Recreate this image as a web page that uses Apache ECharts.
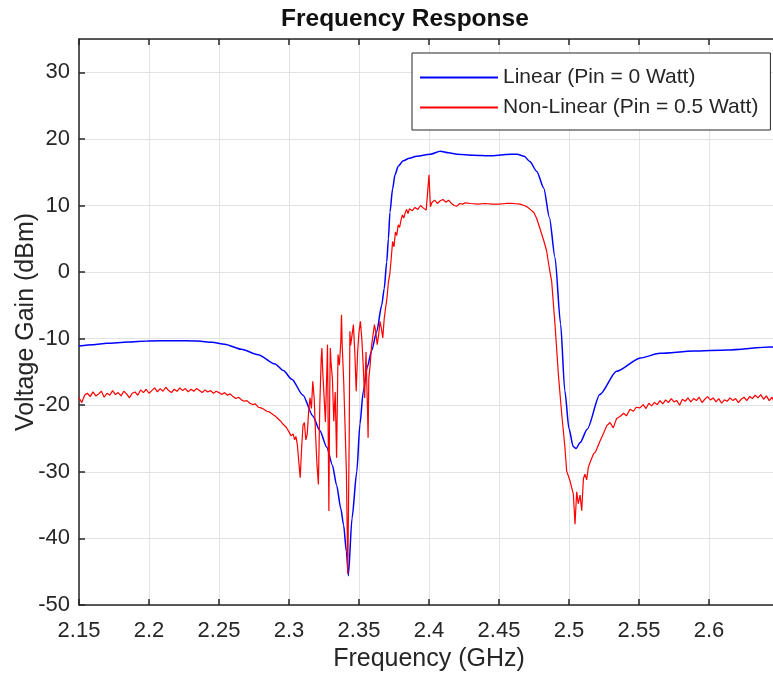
<!DOCTYPE html>
<html>
<head>
<meta charset="utf-8">
<title>Frequency Response</title>
<script src="https://cdn.jsdelivr.net/npm/echarts@6/dist/echarts.min.js"></script>
<style>
  html, body { margin: 0; padding: 0; background: #fff; }
  #chart { width: 773px; height: 677px; }
</style>
</head>
<body>
<div id="chart"></div>
<script>
// axis ticks
var xTicks = { min: 2.15, max: 2.65, step: 0.05 };
var yTicks = { min: -50, max: 35, step: 10 };

var seriesNames = ['Linear (Pin = 0 Watt)', 'Non-Linear (Pin = 0.5 Watt)'];

// linear response [GHz, dBm]
var linearGain = [
    [2.150, -11.1], [2.160, -10.9], [2.170, -10.7], [2.185, -10.5], [2.199, -10.35],
    [2.219, -10.3], [2.235, -10.35], [2.245, -10.55], [2.254, -10.85], [2.266, -11.6],
    [2.278, -12.4], [2.290, -13.8], [2.296, -14.8], [2.302, -16.1], [2.310, -18.5],
    [2.317, -21.6], [2.322, -23.8], [2.327, -26.3], [2.331, -29.0], [2.334, -32.0],
    [2.337, -35.5], [2.339, -38.0], [2.341, -42.0], [2.3424, -45.6], [2.345, -37.0],
    [2.3484, -30.0], [2.3507, -22.8], [2.353, -18.0], [2.356, -14.2], [2.359, -11.8],
    [2.3626, -9.0], [2.3662, -5.0], [2.368, -2.5], [2.3698, 1.5], [2.371, 5.0],
    [2.3721, 9.0], [2.374, 12.5], [2.3757, 14.6], [2.378, 15.9], [2.3816, 16.7],
    [2.386, 17.1], [2.391, 17.4], [2.401, 17.7], [2.408, 18.15], [2.414, 17.9],
    [2.420, 17.7], [2.432, 17.55], [2.444, 17.45], [2.455, 17.65], [2.463, 17.7],
    [2.468, 17.4], [2.472, 16.6], [2.477, 15.1], [2.482, 12.6], [2.486, 8.2],
    [2.490, 2.2], [2.494, -7.8], [2.497, -17.8], [2.500, -23.5], [2.503, -26.2],
    [2.505, -26.5], [2.508, -25.6], [2.513, -23.6], [2.522, -18.4], [2.534, -14.9],
    [2.551, -12.9], [2.565, -12.2], [2.589, -11.85], [2.613, -11.7], [2.644, -11.25],
    [2.650, -11.2]
];

// non-linear response [GHz, dBm]
var nonLinearGain = [
    [2.150, -18.9], [2.152, -19.6], [2.154, -18.5], [2.156, -18.2], [2.158, -18.7],
    [2.160, -18.0], [2.162, -18.6], [2.164, -18.3], [2.166, -17.9], [2.168, -18.8],
    [2.170, -18.2], [2.172, -18.5], [2.174, -17.8], [2.176, -18.4], [2.178, -18.1],
    [2.180, -18.6], [2.182, -17.9], [2.184, -18.3], [2.186, -18.9], [2.188, -18.2],
    [2.190, -18.0], [2.192, -18.5], [2.194, -17.7], [2.196, -18.1], [2.198, -17.6],
    [2.200, -18.2], [2.202, -17.8], [2.204, -17.4], [2.206, -18.0], [2.208, -17.5],
    [2.210, -17.9], [2.212, -17.3], [2.214, -17.8], [2.216, -18.1], [2.218, -17.6],
    [2.220, -17.9], [2.222, -17.4], [2.224, -17.8], [2.226, -17.5], [2.228, -18.0],
    [2.230, -17.6], [2.232, -17.9], [2.234, -17.5], [2.236, -17.8], [2.238, -18.1],
    [2.240, -17.7], [2.242, -18.0], [2.244, -17.8], [2.246, -18.2], [2.248, -17.9],
    [2.250, -18.1], [2.252, -18.4], [2.254, -18.1], [2.256, -18.5], [2.258, -18.3],
    [2.260, -18.7], [2.262, -19.0], [2.264, -18.8], [2.266, -19.2], [2.268, -19.4],
    [2.270, -19.3], [2.272, -19.7], [2.274, -19.9], [2.276, -19.8], [2.278, -20.3],
    [2.280, -20.4], [2.282, -20.6], [2.284, -20.9], [2.286, -21.0], [2.288, -21.3],
    [2.290, -21.6], [2.292, -22.0], [2.294, -22.4], [2.296, -22.9], [2.298, -23.3],
    [2.300, -24.0], [2.3015, -24.6], [2.303, -24.3], [2.304, -25.2], [2.305, -24.7],
    [2.306, -26.0], [2.307, -28.5], [2.308, -30.9], [2.309, -26.5], [2.310, -23.0],
    [2.311, -22.6], [2.312, -25.2], [2.313, -24.4], [2.314, -21.0], [2.315, -18.9],
    [2.316, -20.5], [2.317, -16.4], [2.318, -19.0], [2.319, -24.5], [2.320, -29.0],
    [2.321, -31.9], [2.322, -20.0], [2.323, -13.0], [2.3235, -11.4], [2.324, -14.5],
    [2.325, -18.5], [2.326, -22.5], [2.327, -15.0], [2.3275, -10.9], [2.328, -24.0],
    [2.3285, -35.9], [2.329, -20.0], [2.3295, -11.4], [2.330, -13.5], [2.331, -16.0],
    [2.332, -22.4], [2.333, -18.0], [2.334, -27.9], [2.335, -12.4], [2.336, -14.0],
    [2.337, -10.5], [2.3375, -6.4], [2.338, -11.0], [2.339, -16.0], [2.340, -22.9],
    [2.341, -30.0], [2.342, -45.3], [2.343, -25.0], [2.3435, -8.9], [2.344, -11.0],
    [2.345, -9.5], [2.346, -7.9], [2.347, -12.0], [2.348, -17.9], [2.349, -12.0],
    [2.350, -9.0], [2.351, -7.4], [2.352, -10.0], [2.353, -14.0], [2.354, -18.9],
    [2.355, -12.0], [2.356, -20.0], [2.3565, -24.9], [2.357, -16.0], [2.358, -13.9],
    [2.359, -11.0], [2.360, -9.5], [2.361, -7.9], [2.362, -9.0], [2.363, -10.9],
    [2.364, -9.5], [2.365, -7.4], [2.366, -8.5], [2.367, -9.9], [2.368, -7.0],
    [2.369, -5.4], [2.370, -3.9], [2.371, -1.5], [2.372, -0.3], [2.373, 2.0],
    [2.374, 4.6], [2.375, 3.8], [2.376, 6.0], [2.377, 5.5], [2.378, 7.1],
    [2.379, 6.7], [2.380, 7.8], [2.381, 8.6], [2.382, 8.1], [2.383, 8.9],
    [2.384, 9.4], [2.385, 8.8], [2.386, 9.5], [2.388, 9.2], [2.390, 9.7],
    [2.392, 9.4], [2.394, 10.0], [2.396, 9.6], [2.398, 9.3], [2.399, 9.3],
    [2.400, 14.6], [2.401, 9.8], [2.402, 10.4], [2.404, 10.8], [2.406, 10.3],
    [2.408, 10.7], [2.410, 10.9], [2.412, 10.5], [2.414, 10.8], [2.416, 10.3],
    [2.418, 10.0], [2.420, 9.9], [2.422, 10.3], [2.424, 10.2], [2.426, 10.4],
    [2.430, 10.3], [2.435, 10.2], [2.440, 10.3], [2.445, 10.2], [2.450, 10.2],
    [2.455, 10.3], [2.460, 10.3], [2.465, 10.2], [2.468, 10.0], [2.470, 9.8],
    [2.473, 9.3], [2.475, 8.9], [2.477, 8.0], [2.479, 6.7], [2.482, 4.7],
    [2.484, 3.2], [2.486, 0.5], [2.4876, -1.35], [2.490, -7.85], [2.4924, -15.35],
    [2.4948, -21.35], [2.4971, -26.35], [2.4983, -29.85], [2.5007, -31.35], [2.5031, -33.35],
    [2.5043, -37.85], [2.5055, -33.0], [2.5066, -34.8], [2.5079, -33.5], [2.5091, -35.85],
    [2.5103, -31.0], [2.5114, -30.35], [2.5126, -31.2], [2.5138, -29.35], [2.515, -28.6],
    [2.5162, -28.9], [2.5174, -27.35], [2.519, -27.0], [2.5221, -25.4], [2.5245, -24.3],
    [2.5269, -23.1], [2.5293, -22.6], [2.5316, -23.4], [2.534, -22.0], [2.5364, -21.7],
    [2.539, -21.2], [2.541, -21.6], [2.5436, -20.6], [2.546, -20.9], [2.548, -20.3],
    [2.5507, -20.4], [2.553, -19.9], [2.555, -20.5], [2.557, -19.7], [2.559, -20.1],
    [2.561, -19.6], [2.563, -19.9], [2.565, -19.3], [2.567, -19.8], [2.569, -19.2],
    [2.571, -19.6], [2.573, -19.0], [2.575, -19.5], [2.577, -19.3], [2.579, -20.0],
    [2.581, -19.1], [2.583, -19.4], [2.585, -18.9], [2.587, -19.5], [2.589, -19.0],
    [2.591, -19.3], [2.593, -18.8], [2.595, -19.6], [2.597, -19.1], [2.599, -18.7],
    [2.601, -19.2], [2.603, -18.9], [2.605, -19.5], [2.607, -19.0], [2.609, -19.7],
    [2.611, -19.2], [2.613, -19.4], [2.615, -18.9], [2.617, -19.3], [2.619, -19.0],
    [2.621, -19.6], [2.623, -19.1], [2.625, -18.8], [2.627, -19.3], [2.629, -18.7],
    [2.631, -19.0], [2.633, -18.5], [2.635, -18.9], [2.637, -18.4], [2.639, -19.1],
    [2.641, -18.6], [2.643, -19.3], [2.645, -18.8], [2.647, -19.6], [2.649, -19.2],
    [2.650, -18.9]
];

var FONT = "'Liberation Sans', Arial, Helvetica, sans-serif";
var TEXT_COLOR = '#262626';
var AXIS_COLOR = '#262626';
var GRID_COLOR = '#e3e3e3';

var chart = echarts.init(document.getElementById('chart'), null, { renderer: 'canvas' });

chart.setOption({
    animation: false,
    backgroundColor: '#ffffff',
    textStyle: { fontFamily: FONT },
    title: {
        text: 'Frequency Response',
        left: 281,
        top: 7,
        padding: 0,
        textStyle: { fontFamily: FONT, fontSize: 24.5, fontWeight: 'bold', color: '#111111' }
    },
    legend: {
        orient: 'vertical',
        left: 412,
        top: 53,
        padding: [14, 12, 12, 8],
        itemGap: 9,
        itemWidth: 78,
        itemHeight: 2,
        icon: 'rect',
        backgroundColor: '#ffffff',
        borderColor: AXIS_COLOR,
        borderWidth: 1,
        textStyle: { fontFamily: FONT, fontSize: 21, color: TEXT_COLOR },
        data: seriesNames
    },
    grid: { left: 79, top: 39, right: -6, bottom: 72, containLabel: false, outerBoundsMode: 'none' },
    xAxis: [{
        type: 'value',
        min: xTicks.min,
        max: xTicks.max,
        interval: xTicks.step,
        name: 'Frequency (GHz)',
        nameLocation: 'middle',
        nameGap: 42,
        nameMoveOverlap: false,
        nameTextStyle: { fontFamily: FONT, fontSize: 25, color: TEXT_COLOR },
        axisLine: { show: true, onZero: false, lineStyle: { color: AXIS_COLOR, width: 1.5 } },
        axisTick: { show: true, inside: true, length: 6, lineStyle: { color: AXIS_COLOR, width: 1.5 } },
        axisLabel: { margin: 15, fontFamily: FONT, fontSize: 22, color: TEXT_COLOR, showMaxLabel: false },
        splitLine: { show: true, lineStyle: { color: GRID_COLOR, width: 1 } }
    }, {
        // top frame
        type: 'value',
        position: 'top',
        min: xTicks.min,
        max: xTicks.max,
        interval: xTicks.step,
        axisLine: { show: true, onZero: false, lineStyle: { color: AXIS_COLOR, width: 1.5 } },
        axisTick: { show: true, inside: true, length: 6, lineStyle: { color: AXIS_COLOR, width: 1.5 } },
        axisLabel: { show: false },
        splitLine: { show: false }
    }],
    yAxis: {
        type: 'value',
        min: yTicks.min,
        max: yTicks.max,
        interval: yTicks.step,
        name: 'Voltage Gain (dBm)',
        nameLocation: 'middle',
        nameGap: 40,
        nameMoveOverlap: false,
        nameTextStyle: { fontFamily: FONT, fontSize: 25, color: TEXT_COLOR },
        axisLine: { show: true, onZero: false, lineStyle: { color: AXIS_COLOR, width: 1.5 } },
        axisTick: { show: true, inside: true, length: 6, lineStyle: { color: AXIS_COLOR, width: 1.5 } },
        axisLabel: { margin: 9, fontFamily: FONT, fontSize: 22, color: TEXT_COLOR, showMaxLabel: false },
        splitLine: { show: true, lineStyle: { color: GRID_COLOR, width: 1 } }
    },
    series: [{
        name: seriesNames[0],
        type: 'line',
        xAxisIndex: 0,
        data: linearGain,
        symbol: 'none',
        smooth: 0.25,
        smoothMonotone: 'x',
        lineStyle: { color: '#0000ff', width: 1.5 },
        itemStyle: { color: '#0000ff' }
    }, {
        name: seriesNames[1],
        type: 'line',
        xAxisIndex: 0,
        data: nonLinearGain,
        symbol: 'none',
        lineStyle: { color: '#ff0000', width: 1.2 },
        itemStyle: { color: '#ff0000' }
    }]
});
</script>
</body>
</html>
